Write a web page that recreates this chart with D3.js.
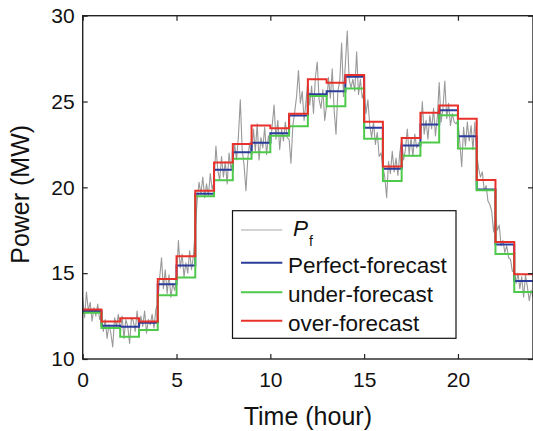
<!DOCTYPE html>
<html>
<head>
<meta charset="utf-8">
<script src="https://cdn.jsdelivr.net/npm/d3@7"></script>
<style>
  body { margin: 0; background: #fff; }
  svg { display: block; font-family: "Liberation Sans", Arial, Helvetica, sans-serif; }
</style>
</head>
<body>
<svg id="chart" width="533" height="431"></svg>
<script>
// Hour at which each hourly block starts
const hourStarts = [0,1,2,3,4,5,6,7,8,9,10,11,12,13,14,15,16,17,18,19,20,21,22,23];

// Hourly power levels (MW)
const perfectForecast = [12.79,11.94,11.88,12.11,14.36,15.45,19.63,21.03,22.05,22.60,23.15,24.18,
                         25.42,25.60,26.45,23.47,21.09,22.44,23.66,24.49,22.97,19.87,16.67,14.55];
const underForecast   = [12.69,11.80,11.30,11.69,13.71,14.75,19.48,20.42,21.66,22.05,23.00,23.56,
                         25.32,24.72,25.76,22.83,20.37,21.84,22.62,24.20,22.26,19.83,16.12,13.90];
const overForecast    = [12.89,12.19,12.37,12.19,14.66,15.99,19.80,21.45,22.53,23.61,23.44,24.29,
                         26.30,26.09,26.55,23.82,21.22,22.87,24.34,24.77,24.00,20.43,16.82,14.94];

// Measured power P_f, sampled every 6 minutes from 0 h to 24 h
const pfStep = 0.1;
const pfValues = [
  13.6,12.4,13.9,12.8,13.3,12.2,13.0,12.5,13.2,12.3,
  12.6,11.6,12.3,11.2,12.0,11.5,10.7,12.4,11.9,12.6,
  11.6,12.5,11.2,12.3,11.9,10.9,12.4,12.2,11.6,12.8,
  11.6,12.5,11.9,12.8,11.5,12.3,12.0,12.6,11.8,12.9,
  13.2,14.7,15.9,14.1,15.2,13.8,14.9,13.6,14.4,14.0,
  14.6,16.9,15.3,16.1,14.8,15.6,15.0,16.3,15.2,16.0,
  17.6,19.2,20.3,19.6,20.6,19.4,20.2,19.5,20.8,19.9,
  20.3,22.4,21.0,20.4,21.8,20.6,21.5,20.2,22.0,21.1,
  21.4,22.5,21.6,23.0,25.1,22.2,21.3,19.8,21.7,22.6,
  21.8,23.4,22.1,23.7,21.6,22.9,22.3,23.5,21.9,23.0,
  22.4,23.6,24.8,22.8,23.9,22.2,23.4,22.7,23.8,22.9,
  22.8,21.4,23.6,24.4,25.3,26.8,24.9,25.6,23.9,25.0,
  26.2,24.8,25.9,24.3,26.4,27.3,25.1,24.6,25.7,23.9,
  24.8,26.4,25.2,26.9,24.5,23.1,25.6,26.2,28.4,25.3,
  27.2,29.1,26.3,25.8,26.3,25.6,27.9,25.4,26.3,25.2,
  25.6,24.3,25.1,23.6,22.9,23.8,22.5,23.2,21.8,22.0,
  21.2,20.6,19.4,21.5,20.8,22.1,20.9,21.7,20.7,22.0,
  22.8,21.6,22.2,23.4,21.9,22.9,21.8,23.1,22.3,22.6,
  22.6,25.0,23.1,23.9,22.8,24.2,23.4,24.6,23.0,24.1,
  26.1,23.8,24.6,26.2,24.0,24.9,23.6,24.3,23.8,23.7,
  23.9,22.6,21.2,23.5,22.4,23.8,22.7,23.6,22.2,23.8,
  22.0,21.1,20.6,20.9,19.8,20.1,19.2,19.0,18.6,17.4,
  18.3,17.5,17.8,16.6,16.9,16.2,16.6,15.9,15.8,15.1,
  15.2,14.4,15.0,14.1,14.8,13.6,14.9,14.2,13.4,14.0,
  13.6
];

const xTicks = [0, 5, 10, 15, 20];
const yTicks = [10, 15, 20, 25, 30];

const seriesNames  = ["Perfect-forecast", "under-forecast", "over-forecast"];
const seriesColors = { pf: "#999999", pfLegend: "#c4c4c4",
                       "Perfect-forecast": "#2b3c9b", "under-forecast": "#4fc94a", "over-forecast": "#e8312a" };

const svg = d3.select("#chart");
const plotLeft = 82.7, plotRight = 533, plotTop = 15.7, plotBottom = 359;

const x = d3.scaleLinear().domain([0, 24]).range([plotLeft, plotRight]);
const y = d3.scaleLinear().domain([10, 30]).range([plotBottom, plotTop]);

svg.append("defs").append("clipPath").attr("id", "plotClip")
  .append("rect").attr("x", plotLeft).attr("y", plotTop)
  .attr("width", plotRight - plotLeft).attr("height", plotBottom - plotTop);

const plot = svg.append("g").attr("clip-path", "url(#plotClip)");

// measured trace
const pfPoints = pfValues.map((v, i) => [i * pfStep, v]);
plot.append("path")
  .datum(pfPoints)
  .attr("fill", "none")
  .attr("stroke", seriesColors.pf)
  .attr("stroke-width", 1.1)
  .attr("stroke-linejoin", "round")
  .attr("d", d3.line().x(d => x(d[0])).y(d => y(d[1])));

// hourly step series
const stepLine = d3.line().curve(d3.curveStepAfter).x(d => x(d[0])).y(d => y(d[1]));
const seriesData = {
  "Perfect-forecast": perfectForecast,
  "under-forecast": underForecast,
  "over-forecast": overForecast
};
seriesNames.forEach(name => {
  const vals = seriesData[name];
  const pts = hourStarts.map((h, i) => [h, vals[i]]);
  pts.push([24, vals[vals.length - 1]]);
  plot.append("path")
    .datum(pts)
    .attr("fill", "none")
    .attr("stroke", seriesColors[name])
    .attr("stroke-width", 2)
    .attr("stroke-linejoin", "miter")
    .attr("d", stepLine);
});

// axes (ticks point inward, box all round)
const fontSize = 21;
const axB = svg.append("g").attr("transform", `translate(0,${plotBottom})`)
  .call(d3.axisBottom(x).tickValues(xTicks).tickSize(-5).tickPadding(13).tickFormat(d3.format("d")));
const axL = svg.append("g").attr("transform", `translate(${plotLeft},0)`)
  .call(d3.axisLeft(y).tickValues(yTicks).tickSize(-5).tickPadding(8).tickFormat(d3.format("d")));
const axT = svg.append("g").attr("transform", `translate(0,${plotTop})`)
  .call(d3.axisTop(x).tickValues(xTicks).tickSize(-5).tickFormat(""));
const axR = svg.append("g").attr("transform", `translate(${plotRight},0)`)
  .call(d3.axisRight(y).tickValues(yTicks).tickSize(-5).tickFormat(""));

[axB, axL, axT, axR].forEach(g => {
  g.select(".domain").remove();
  g.selectAll(".tick line").attr("stroke", "#222").attr("stroke-width", 1.2);
  g.selectAll(".tick text").attr("fill", "#111").style("font-size", fontSize + "px")
    .style("font-family", '"Liberation Sans", Arial, sans-serif');
});

svg.append("rect")
  .attr("x", plotLeft).attr("y", plotTop)
  .attr("width", plotRight - plotLeft).attr("height", plotBottom - plotTop)
  .attr("fill", "none").attr("stroke", "#222").attr("stroke-width", 1.4);

// axis titles
svg.append("text")
  .attr("x", (plotLeft + plotRight) / 2).attr("y", 425)
  .attr("text-anchor", "middle")
  .style("font-size", "25px").attr("fill", "#111")
  .text("Time (hour)");
svg.append("text")
  .attr("transform", `translate(29,${(plotTop + plotBottom) / 2 + 7}) rotate(-90)`)
  .attr("text-anchor", "middle")
  .style("font-size", "25px").attr("fill", "#111")
  .text("Power (MW)");

// legend
const lg = svg.append("g");
lg.append("rect")
  .attr("x", 232.5).attr("y", 210.7).attr("width", 223.5).attr("height", 127.6)
  .attr("fill", "#fff").attr("stroke", "#111").attr("stroke-width", 1.2);

const rowY = [230, 262.7, 292.3, 320.7];
lg.append("line").attr("x1", 241).attr("x2", 282.3).attr("y1", rowY[0]).attr("y2", rowY[0])
  .attr("stroke", seriesColors.pfLegend).attr("stroke-width", 1.5);
const pfLabel = lg.append("text").attr("x", 293).attr("y", rowY[0] + 6)
  .style("font-size", "22.5px").attr("fill", "#111");
pfLabel.append("tspan").style("font-style", "italic").text("P");
pfLabel.append("tspan").attr("dx", 1).attr("dy", 10).style("font-size", "14px").text("f");

seriesNames.forEach((name, i) => {
  const yy = rowY[i + 1];
  lg.append("line").attr("x1", 241).attr("x2", 282.3).attr("y1", yy).attr("y2", yy)
    .attr("stroke", seriesColors[name]).attr("stroke-width", 2);
  lg.append("text").attr("x", 288).attr("y", yy + 10)
    .style("font-size", "22.5px").attr("fill", "#111").text(name);
});
</script>
</body>
</html>
